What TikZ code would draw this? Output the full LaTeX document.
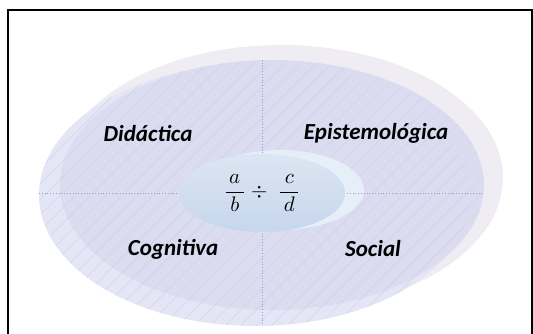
\documentclass[tikz,border=0pt]{standalone}
\usepackage{graphicx}
\usepackage{fontspec}
\newfontfamily\labelfont{Carlito}
\usetikzlibrary{shapes.geometric,patterns.meta}
\definecolor{shadowlav}{HTML}{EFEDF3}
\definecolor{lightlav}{HTML}{E4E6F6}
\definecolor{mainlav}{HTML}{DCDCF0}
\definecolor{hatchlav}{HTML}{D3D3EB}
\definecolor{coretop}{HTML}{DCE6F3}
\definecolor{corebot}{HTML}{C6D6EC}
\definecolor{coreshadow}{HTML}{E6EEF8}
\definecolor{axisblue}{HTML}{8C9FD8}

\begin{document}
\begin{tikzpicture}[x=1pt,y=-1pt,
  dim/.style={font=\labelfont\bfseries\itshape\fontsize{23}{27}\selectfont,anchor=base,inner sep=0pt},
  axis/.style={draw=axisblue,dotted,line width=0.8pt},
  hatch/.style={pattern={Lines[angle=45,distance=11pt,line width=0.5pt]},pattern color=hatchlav}]
\useasboundingbox (0,0) rectangle (533,333);
\draw[line width=2pt] (7.5,334) -- (7.5,9.5) -- (531.5,9.5) -- (531.5,334);
\fill[shadowlav] (281,178) ellipse [x radius=222pt,y radius=133pt];
\fill[lightlav] (255,195) ellipse [x radius=216pt,y radius=131pt];
\fill[mainlav] (272,185) ellipse [x radius=212pt,y radius=125pt];
\fill[hatch] (255,195) ellipse [x radius=216pt,y radius=131pt];
\fill[hatch] (272,185) ellipse [x radius=212pt,y radius=125pt];
\fill[coreshadow] (280,190) ellipse [x radius=84pt,y radius=40pt];
\coordinate (top) at (262,60);
\coordinate (bottom) at (262,326);
\coordinate (left) at (39,193);
\coordinate (right) at (484,193);
\draw[axis] (top) -- (bottom);
\draw[axis] (left) -- (right);
\node[ellipse,minimum width=166pt,minimum height=78pt,inner sep=0pt,top color=coretop,bottom color=corebot]
  (core) at (262,193) {\scalebox{2.1}{$\displaystyle\frac{\,a\,}{\,b\,}\div\;\frac{\,c\,}{\,d\,}$}};
\node[dim] (didactica) at (148,141) {Didáctica};
\node[dim] (episte) at (376,139) {Epistemológica};
\node[dim] (cognitiva) at (173,255) {Cognitiva};
\node[dim] (social) at (373,256) {Social};
\end{tikzpicture}
\end{document}
